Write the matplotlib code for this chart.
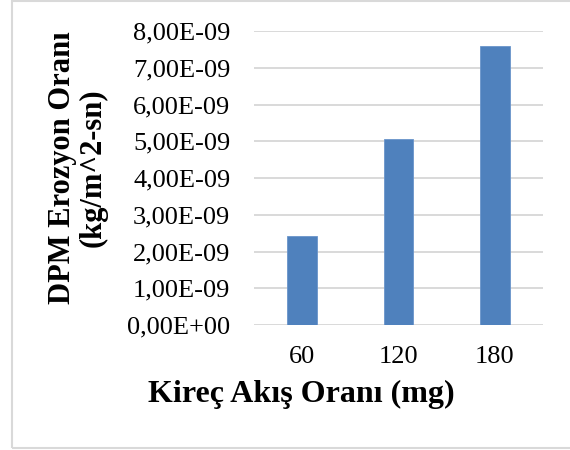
import matplotlib
matplotlib.use("Agg")
import matplotlib.pyplot as plt
from matplotlib.patches import Rectangle
import numpy as np

# veri
kategoriler = ["60", "120", "180"]
erozyon = [2.43e-9, 5.05e-9, 7.59e-9]
y_tikler = [0, 1e-9, 2e-9, 3e-9, 4e-9, 5e-9, 6e-9, 7e-9, 8e-9]

plt.rcParams['font.family'] = ['Liberation Serif', 'DejaVu Serif']

fig = plt.figure(figsize=(5.7, 4.5), dpi=100)
ax = fig.add_axes([254/570, 1 - 325/450, (543 - 254)/570, (325 - 31)/450])

x = np.arange(len(kategoriler))
ax.bar(x, erozyon, width=0.31, color='#4F81BD', edgecolor='#6A95CB', linewidth=0.6, zorder=3)

ax.set_xlim(-0.5, len(kategoriler) - 0.5)
ax.set_ylim(0, 8e-9)
ax.set_yticks(y_tikler)
ax.set_yticklabels(["{:.2E}".format(v).replace(".", ",") for v in y_tikler])
ax.set_xticks(x)
ax.set_xticklabels(kategoriler)

ax.grid(axis='y', color='#D9D9D9', linewidth=1.4, zorder=0)
ax.set_axisbelow(True)
for s in ax.spines.values():
    s.set_visible(False)
ax.tick_params(axis='both', length=0, labelsize=19)
ax.tick_params(axis='y', pad=17)
ax.tick_params(axis='x', pad=15)

# eksen basliklari
fig.text(78/570, 1 - 168/450, "DPM Erozyon Oranı\n(kg/m^2-sn)", rotation=90,
         ha='center', va='center', multialignment='center', fontsize=22,
         fontweight='bold', linespacing=1.05)
fig.text(301/570, 1 - 402/450, "Kireç Akış Oranı (mg)", ha='center', va='baseline',
         fontsize=23, fontweight='bold')

# grafik cercevesi
fig.patches.append(Rectangle((12/570, 1 - 448/450), 1, 447/450, transform=fig.transFigure,
                             fill=False, edgecolor='#D9D9D9', linewidth=1.5))

fig.savefig("out.png", dpi=100)
